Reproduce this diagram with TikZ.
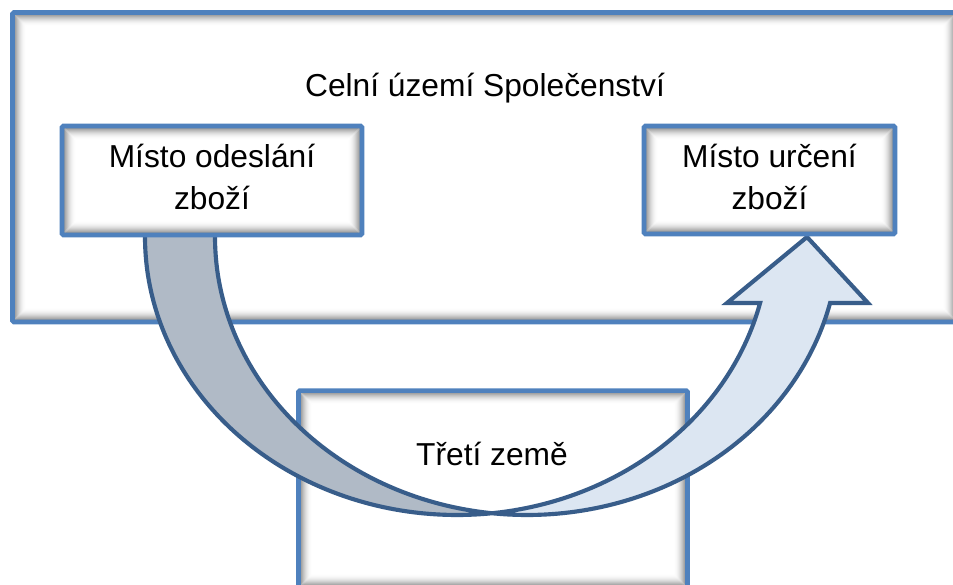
\documentclass[tikz,border=0pt]{standalone}
\usepackage{fontspec}
\setmainfont{Liberation Sans}
\definecolor{boxblue}{HTML}{4F81BD}
\definecolor{arrline}{HTML}{385D8A}
\definecolor{darkfill}{HTML}{B0BAC6}
\definecolor{lightfill}{HTML}{DCE6F2}
\begin{document}
\begin{tikzpicture}[x=0.75pt,y=-0.75pt,
  box/.style={draw=boxblue, line width=3.4pt, fill=white, inner sep=0pt, outer sep=0pt, rounded corners=1pt,
    path picture={\foreach \i in {2,...,13}{\pgfmathsetmacro\op{0.36*((14-\i)/12)^2}
      \draw[black, opacity=\op, line width=0.9pt]
        ([shift={(\i,\i)}]path picture bounding box.north west) rectangle
        ([shift={(-\i,-\i)}]path picture bounding box.south east);}}},
  lbl/.style={font=\fontsize{23.8pt}{31.5pt}\selectfont, text=black, inner sep=0pt, align=center},
  bandline/.style={draw=arrline, line width=3.1pt}]
\useasboundingbox (0,0) rectangle (953,585);
\clip (0,0) rectangle (953,585);
% boxes behind the arrow
\node[box, minimum width=708.4pt, minimum height=232.1pt] (ctu) at (484.75,167.25) {};
\node[box, minimum width=291.75pt, minimum height=148.1pt] (third) at (493,489.25) {};
% curved arrow
\fill[darkfill] plot[domain=195:83.56,samples=90] ({457+312*cos(\x)},{237+278*sin(\x)})
  -- plot[domain=96.44:195,samples=90] ({527+312*cos(\x)},{237+278*sin(\x)}) -- cycle;
\fill[lightfill] plot[domain=96.44:13.73,samples=90] ({527+312*cos(\x)},{237+278*sin(\x)})
  -- (868,303) -- (807,237) -- (727,303)
  -- plot[domain=13.73:83.56,samples=90] ({457+312*cos(\x)},{237+278*sin(\x)}) -- cycle;
\draw[bandline] plot[domain=195:13.73,samples=160] ({457+312*cos(\x)},{237+278*sin(\x)})
  -- (727,303) -- (807,237) -- (868,303)
  -- plot[domain=13.73:195,samples=160] ({527+312*cos(\x)},{237+278*sin(\x)});
% boxes in front of the arrow
\node[box, minimum width=225pt, minimum height=81.75pt] (src) at (212,180.5) {};
\node[box, minimum width=188.25pt, minimum height=81pt] (dst) at (769.5,180) {};
% labels
\node[lbl, anchor=base] (ctut) at (485,97) {Celní území Společenství};
\node[lbl, anchor=base] (srct) at (212,209) {Místo odeslání\\zboží};
\node[lbl, anchor=base] (dstt) at (769.5,209) {Místo určení\\zboží};
\node[lbl, anchor=base] (thirdt) at (492,465) {Třetí země};
\end{tikzpicture}
\end{document}
